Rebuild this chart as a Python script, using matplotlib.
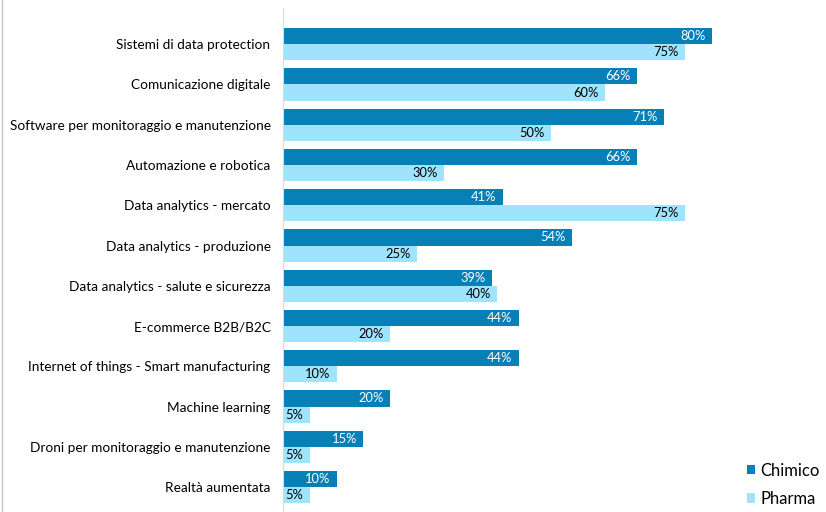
import matplotlib.pyplot as plt
from matplotlib.lines import Line2D
import numpy as np

plt.rcParams["font.family"] = ["Lato", "DejaVu Sans"]

categories = [
    "Sistemi di data protection",
    "Comunicazione digitale",
    "Software per monitoraggio e manutenzione",
    "Automazione e robotica",
    "Data analytics - mercato",
    "Data analytics - produzione",
    "Data analytics - salute e sicurezza",
    "E-commerce B2B/B2C",
    "Internet of things - Smart manufacturing",
    "Machine learning",
    "Droni per monitoraggio e manutenzione",
    "Realtà aumentata",
]
chimico = [80, 66, 71, 66, 41, 54, 39, 44, 44, 20, 15, 10]
pharma = [75, 60, 50, 30, 75, 25, 40, 20, 10, 5, 5, 5]

dark = "#0780B7"
light = "#A0E3FC"

fig = plt.figure(figsize=(8.26, 5.12), dpi=100)
ax = fig.add_axes([283 / 826, 0, 536 / 826, 504 / 512])

y = np.arange(len(categories))
h = 0.4
b1 = ax.barh(y - h / 2, chimico, height=h, color=dark, label="Chimico")
b2 = ax.barh(y + h / 2, pharma, height=h, color=light, label="Pharma")

for bar, v in zip(b1, chimico):
    ax.text(bar.get_width() - 1.2, bar.get_y() + bar.get_height() / 2, f"{v}%",
            ha="right", va="center", color="white", fontsize=9.3)
for bar, v in zip(b2, pharma):
    ax.text(bar.get_width() - 1.2, bar.get_y() + bar.get_height() / 2, f"{v}%",
            ha="right", va="center", color="black", fontsize=9.3)

ax.set_xlim(0, 100)
ax.set_ylim(11.62, -0.9)
ax.set_yticks(y)
ax.set_yticklabels(categories, fontsize=9.8)
ax.tick_params(axis="y", length=0, pad=9)
ax.set_xticks([])
for s in ["top", "right", "bottom"]:
    ax.spines[s].set_visible(False)
ax.spines["left"].set_color("#D9D9D9")

ax.legend(loc="lower right", bbox_to_anchor=(1.03, -0.02), frameon=False,
          fontsize=12, handlelength=0.5, handleheight=0.5, handletextpad=0.35,
          labelspacing=0.75)

# thin border on the left edge
fig.add_artist(Line2D([0.003, 0.003], [0, 1], color="#C8C8C8", lw=1,
                      transform=fig.transFigure))

fig.savefig("out.png", dpi=100)
